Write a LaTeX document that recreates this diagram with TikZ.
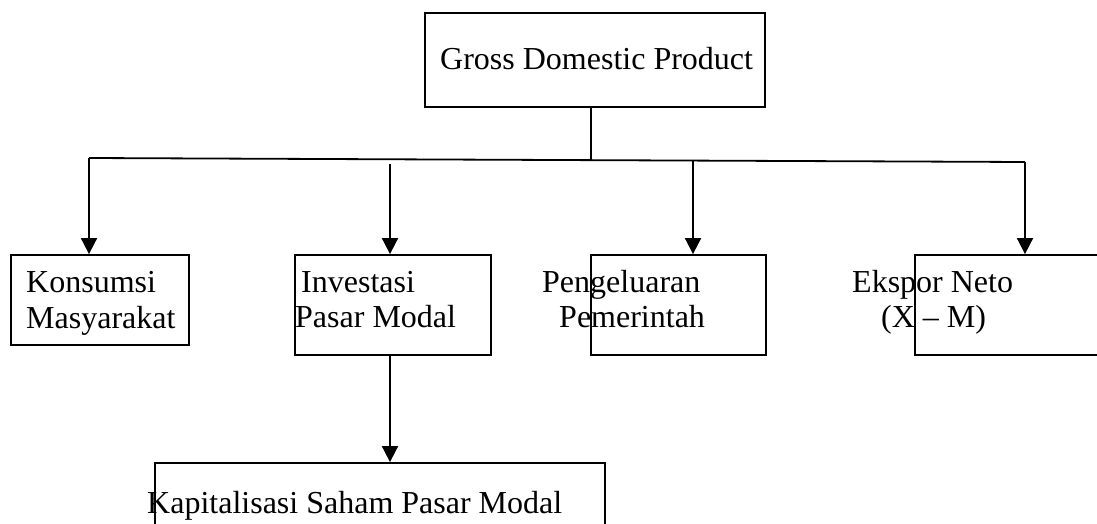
\documentclass[tikz,border=0pt]{standalone}
\usepackage{fontspec}
\setmainfont{Liberation Serif}
\usetikzlibrary{arrows.meta}
\tikzset{
  box/.style={draw, line width=1.8pt, inner sep=0pt, fill=none},
  lbl/.style={anchor=base west, inner sep=0pt, font=\fontsize{32}{36}\selectfont},
  conn/.style={line width=1.8pt},
  arr/.style={line width=1.8pt, -{Triangle[length=16pt,width=16pt]}}
}
\begin{document}
\begin{tikzpicture}[x=1pt,y=-1pt]
\useasboundingbox (0,0) rectangle (1097,524);
\clip (0,0) rectangle (1097,524);
% boxes
\node[box, minimum width=340pt, minimum height=94pt] (gdp) at (595,60) {};
\node[box, minimum width=178pt, minimum height=90pt] (kons) at (100,300) {};
\node[box, minimum width=196pt, minimum height=100pt] (inv) at (393,305) {};
\node[box, minimum width=175pt, minimum height=100pt] (peng) at (678.5,305) {};
\node[box, minimum width=205pt, minimum height=100pt] (eks) at (1017.5,305) {};
\node[box, minimum width=450pt, minimum height=97pt] (kap) at (380,511.5) {};
% texts
\node[lbl] (tgdp) at (440,70) {Gross Domestic Product};
\node[lbl] (tk1) at (26,292) {Konsumsi};
\node[lbl] (tk2) at (26,328) {Masyarakat};
\node[lbl] (ti1) at (301,292) {Investasi};
\node[lbl] (ti2) at (295,327) {Pasar Modal};
\node[lbl] (tp1) at (542,292) {Pengeluaran};
\node[lbl] (tp2) at (559,327) {Pemerintah};
\node[lbl] (te1) at (852,292) {Ekspor Neto};
\node[lbl] (te2) at (881,327) {(X – M)};
\node[lbl] (tkap) at (147,513) {Kapitalisasi Saham Pasar Modal};
% connector points
\coordinate (hl) at (89,158);
\coordinate (hr) at (1025,162);
\coordinate (j) at (591,160);
\coordinate (a2) at (390,164);
\coordinate (a3) at (693,161);
% connectors
\draw[conn] (gdp.south -| j) -- (j);
\draw[conn] (hl) -- (hr);
\draw[arr] (hl) -- (kons.north -| hl);
\draw[arr] (a2) -- (inv.north -| a2);
\draw[arr] (a3) -- (peng.north -| a3);
\draw[arr] (hr) -- (eks.north -| hr);
\draw[arr] (inv.south -| a2) -- (kap.north -| a2);
\end{tikzpicture}
\end{document}
